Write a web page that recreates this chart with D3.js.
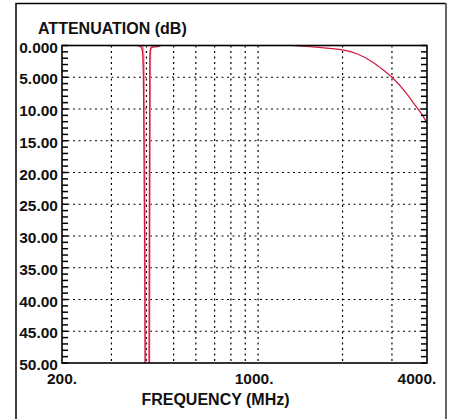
<!DOCTYPE html>
<meta charset="utf-8">
<style>
	body { margin: 0; background: #fff; }
	text { font-family: "Liberation Sans", Arial, sans-serif; font-weight: bold; fill: #111; }
</style>
<body></body>
<script src="https://d3js.org/d3.v7.min.js"></script>
<script>

	// attenuation axis
	var yTickValues = [0, 5, 10, 15, 20, 25, 30, 35, 40, 45, 50];
	var yTickLabels = ["0.000", "5.000", "10.00", "15.00", "20.00", "25.00", "30.00", "35.00", "40.00", "45.00", "50.00"];
	var yMinorValues = d3.range(0, 51, 1);

	// frequency axis
	var xGridValues = [300, 400, 500, 600, 700, 800, 900, 1000, 2000, 3000];
	var xTickValues = [200, 1000, 4000];
	var xTickLabels = ["200.", "1000.", "4000."];

	// main trace (red)
	var redFreq  = [200, 370, 379, 385, 388, 390, 392, 394, 396, 397, 408, 409, 410, 411, 412, 414, 420, 440, 450,
	                1300, 1350, 1430, 1600, 1800, 2000, 2250, 2580, 2800, 3000, 3390, 3600, 3880, 4000];
	var redAtten = [0, 0, 0.1, 0.5, 1.5, 5, 15, 30, 50, 65, 65, 50, 25, 6, 1.5, 0.5, 0.25, 0.15, 0,
	                0, 0.02, 0.1, 0.25, 0.45, 0.7, 1.3, 2.7, 3.9, 5.0, 7.6, 9.2, 11.2, 12.2];

	// second trace (pink), notch only
	var pinkFreq  = [370, 385, 389, 392, 394, 396, 397, 408.5, 409.5, 411, 412, 413, 416, 440, 450];
	var pinkAtten = [0, 0, 0.5, 5, 20, 50, 65, 65, 50, 20, 5, 1, 0.3, 0.1, 0];

	var W = 455, H = 419;
	var m = {left: 62, right: 427, top: 45.5, bottom: 363};

	var x = d3.scaleLog().domain([200, 4000]).range([m.left, m.right]);
	var y = d3.scaleLinear().domain([0, 50]).range([m.top, m.bottom]);

	var svg = d3.select("body").append("svg")
		.attr("width", W)
		.attr("height", H);

	svg.append("rect").attr("width", W).attr("height", H).attr("fill", "#fff");

	// window frame
	svg.append("path")
		.attr("d", "M16,419 L16,3.5 L446,3.5")
		.attr("fill", "none").attr("stroke", "#000").attr("stroke-width", 1.5);
	svg.append("line")
		.attr("x1", 446).attr("x2", 446).attr("y1", 3).attr("y2", H)
		.attr("stroke", "#666").attr("stroke-width", 2);

	svg.append("clipPath").attr("id", "plot")
		.append("rect")
		.attr("x", m.left).attr("y", m.top)
		.attr("width", m.right - m.left).attr("height", m.bottom - m.top);

	// dotted grid
	svg.selectAll(".hgrid")
		.data(yTickValues.slice(1, -1))
		.enter().append("line")
		.attr("x1", m.left).attr("x2", m.right)
		.attr("y1", function(d) { return y(d); })
		.attr("y2", function(d) { return y(d); })
		.attr("stroke", "#000").attr("stroke-width", 1.2)
		.attr("stroke-dasharray", "2,3.5");

	svg.selectAll(".vgrid")
		.data(xGridValues)
		.enter().append("line")
		.attr("x1", function(d) { return x(d); })
		.attr("x2", function(d) { return x(d); })
		.attr("y1", m.top).attr("y2", m.bottom)
		.attr("stroke", "#000").attr("stroke-width", 1.2)
		.attr("stroke-dasharray", "2,3.5");

	// traces
	var line = d3.line()
		.x(function(d) { return x(d[0]); })
		.y(function(d) { return y(d[1]); })
		.curve(d3.curveMonotoneX);

	var g = svg.append("g").attr("clip-path", "url(#plot)");

	g.append("path")
		.attr("d", line(d3.zip(pinkFreq, pinkAtten)))
		.attr("fill", "none").attr("stroke", "#f28ca0").attr("stroke-width", 2);

	g.append("path")
		.attr("d", line(d3.zip(redFreq, redAtten)))
		.attr("fill", "none").attr("stroke", "#d4163c").attr("stroke-width", 1.2);

	// minor ticks, left and right
	svg.selectAll(".ltick")
		.data(yMinorValues)
		.enter().append("line")
		.attr("x1", m.left).attr("x2", m.left + 6)
		.attr("y1", function(d) { return y(d); })
		.attr("y2", function(d) { return y(d); })
		.attr("stroke", "#000").attr("stroke-width", 1.5);

	svg.selectAll(".rtick")
		.data(yMinorValues)
		.enter().append("line")
		.attr("x1", m.right - 6).attr("x2", m.right)
		.attr("y1", function(d) { return y(d); })
		.attr("y2", function(d) { return y(d); })
		.attr("stroke", "#000").attr("stroke-width", 1.5);

	// plot box
	svg.append("rect")
		.attr("x", m.left).attr("y", m.top)
		.attr("width", m.right - m.left).attr("height", m.bottom - m.top)
		.attr("fill", "none").attr("stroke", "#000").attr("stroke-width", 1.6);

	// labels
	svg.selectAll(".ylab")
		.data(yTickValues)
		.enter().append("text")
		.attr("x", 58)
		.attr("y", function(d) { return y(d) + 7; })
		.attr("text-anchor", "end")
		.style("font-size", "15.5px")
		.text(function(d, i) { return yTickLabels[i]; });

	var xShift = [0, -4, -10];
	svg.selectAll(".xlab")
		.data(xTickValues)
		.enter().append("text")
		.attr("x", function(d, i) { return x(d) + xShift[i]; })
		.attr("y", 384)
		.attr("text-anchor", "middle")
		.style("font-size", "15.5px")
		.text(function(d, i) { return xTickLabels[i]; });

	svg.append("text")
		.attr("x", 38).attr("y", 34)
		.style("font-size", "16px")
		.text("ATTENUATION (dB)");

	svg.append("text")
		.attr("x", 215.5).attr("y", 405)
		.attr("text-anchor", "middle")
		.style("font-size", "16px")
		.text("FREQUENCY (MHz)");

</script>
